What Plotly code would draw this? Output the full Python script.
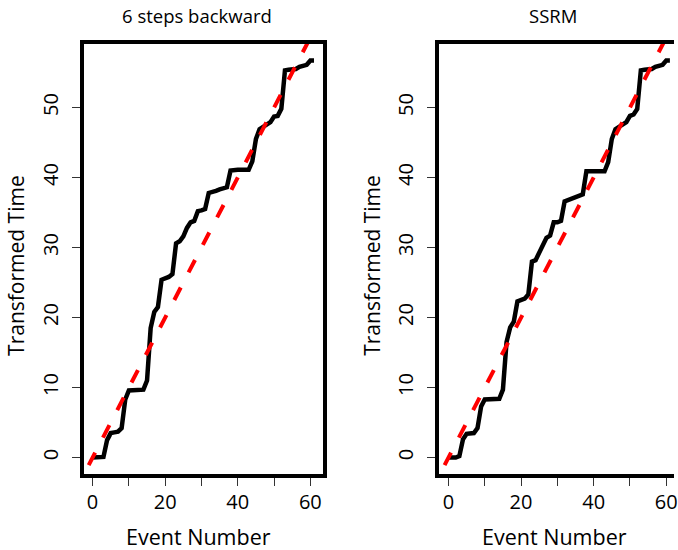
import plotly.graph_objects as go

# ---- data ----
event_number = list(range(0, 62))

backward6 = [0, 0, 0, 0.1, 2.5, 3.5, 3.6, 3.7, 4.2, 8.3,
             9.6, 9.6, 9.6, 9.6, 9.7, 11.0, 18.5, 20.8, 21.5, 25.4,
             25.6, 25.8, 26.2, 30.6, 30.9, 31.6, 32.8, 33.6, 33.8, 35.2,
             35.3, 35.5, 37.8, 37.9, 38.1, 38.3, 38.5, 38.6, 41.0, 41.1,
             41.1, 41.1, 41.1, 41.1, 42.3, 45.5, 46.9, 47.3, 47.6, 47.9,
             48.7, 48.8, 49.8, 55.3, 55.4, 55.4, 55.5, 55.8, 55.9, 56.1,
             56.7, 56.7]

ssrm = [0, 0, 0, 0.2, 2.6, 3.4, 3.4, 3.5, 4.2, 7.3,
        8.3, 8.3, 8.3, 8.3, 8.4, 9.7, 16.5, 18.6, 19.4, 22.3,
        22.5, 22.7, 23.3, 28.0, 28.2, 29.2, 30.5, 31.4, 31.7, 33.6,
        33.6, 33.8, 36.6, 36.8, 37.1, 37.3, 37.5, 37.6, 40.9, 40.9,
        40.9, 40.9, 40.9, 40.9, 42.2, 45.5, 46.9, 47.3, 47.6, 47.9,
        48.8, 49.0, 49.8, 55.3, 55.4, 55.4, 55.5, 55.8, 55.9, 56.1,
        56.7, 56.7]

panel_titles = ["6 steps backward", "SSRM"]
x_tickvals = [0, 10, 20, 30, 40, 50, 60]
x_ticktext = ["0", "", "20", "", "40", "", "60"]
y_tickvals = [0, 10, 20, 30, 40, 50]
y_ticktext = ["0", "10", "20", "30", "40", "50"]
xlabel = "Event Number"
ylabel = "Transformed Time"

# ---- layout geometry (screen pixels) ----
W, H = 678, 550
FONT = "Open Sans"
box_l1, box_r1 = 84, 325
box_l2 = 442
box_t, box_b = 44, 473.5
xr = [-2.5, 63.5]
ppu = (box_r1 - box_l1) / (xr[1] - xr[0])
xr2 = [xr[0], xr[0] + (W - box_l2) / ppu]
yr = [-2.27, 59.07]
ref_line = [-5, 70]

def px(x):
    return x / W

def py(y):
    return 1 - y / H

fig = go.Figure()
series = [backward6, ssrm]
for i, s in enumerate(series):
    xa = "x" if i == 0 else "x2"
    ya = "y" if i == 0 else "y2"
    fig.add_trace(go.Scatter(x=event_number, y=s, mode="lines",
                             line=dict(color="black", width=4.5),
                             xaxis=xa, yaxis=ya, showlegend=False,
                             hoverinfo="skip"))
    fig.add_trace(go.Scatter(x=ref_line, y=ref_line, mode="lines",
                             line=dict(color="#ff0000", width=4, dash="14px,17px"),
                             xaxis=xa, yaxis=ya, showlegend=False,
                             hoverinfo="skip"))

common_x = dict(showline=True, linewidth=4, linecolor="black", mirror=True,
                ticks="outside", ticklen=8, tickwidth=1, tickcolor="#333",
                tickvals=x_tickvals, ticktext=x_ticktext,
                showgrid=False, zeroline=False,
                tickfont=dict(family=FONT, size=20, color="black"),
                ticklabelstandoff=-1, ticklabeloverflow="allow")
common_y = dict(showline=True, linewidth=4, linecolor="black",
                ticks="outside", ticklen=8, tickwidth=1, tickcolor="#333",
                tickvals=y_tickvals, ticktext=y_ticktext, tickangle=-90,
                showgrid=False, zeroline=False, range=yr,
                tickfont=dict(family=FONT, size=20, color="black"),
                ticklabelstandoff=6,
                domain=[py(box_b), py(box_t)])

fig.update_layout(
    width=W, height=H,
    margin=dict(l=0, r=0, t=0, b=0),
    paper_bgcolor="white", plot_bgcolor="white",
    xaxis=dict(common_x, domain=[px(box_l1), px(box_r1)], range=xr, anchor="y"),
    yaxis=dict(common_y, mirror=True, anchor="x"),
    xaxis2=dict(common_x, domain=[px(box_l2), 1.0], range=xr2, anchor="y2"),
    yaxis2=dict(common_y, mirror=False, anchor="x2"),
)

offset = box_l2 - box_l1
anns = []
for i, t in enumerate(panel_titles):
    dx = offset * i
    anns.append(dict(text=t, x=px(198 + dx), y=py(16), xref="paper", yref="paper",
                     showarrow=False, xanchor="center", yanchor="middle",
                     font=dict(family=FONT, size=18.5, color="black")))
    anns.append(dict(text=xlabel, x=px(200 + dx), y=py(536), xref="paper", yref="paper",
                     showarrow=False, xanchor="center", yanchor="middle",
                     font=dict(family=FONT, size=21.5, color="black")))
    anns.append(dict(text=ylabel, x=px(16 + dx), y=py(265), xref="paper", yref="paper",
                     showarrow=False, xanchor="center", yanchor="middle", textangle=-90,
                     font=dict(family=FONT, size=21, color="black")))
fig.update_layout(annotations=anns)

fig.write_html("out.html", config={"displayModeBar": False},
               post_script="document.body.style.margin='0';")
